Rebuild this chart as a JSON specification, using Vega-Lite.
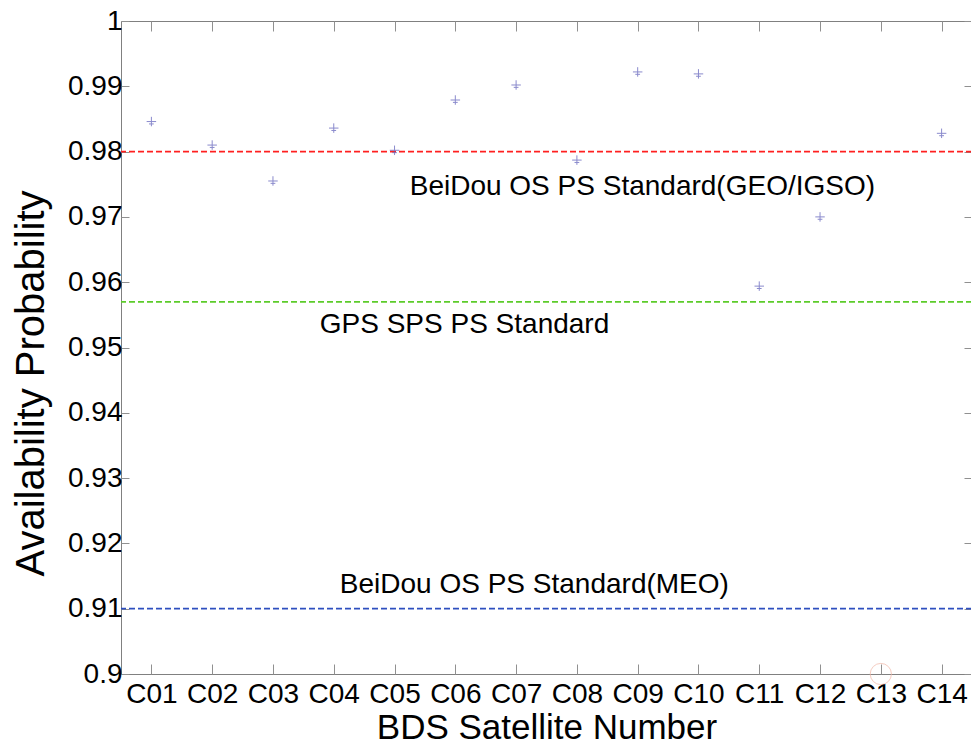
{
  "$schema": "https://vega.github.io/schema/vega-lite/v6.json",
  "width": 851,
  "height": 653,
  "autosize": "none",
  "padding": {"left": 121, "top": 21, "right": 0, "bottom": 76},
  "background": "white",
  "config": {
    "view": {"stroke": "#808080", "strokeWidth": 1},
    "font": "Liberation Sans",
    "axis": {
      "grid": false,
      "domain": false,
      "tickColor": "#909090",
      "tickWidth": 1,
      "labelFont": "Liberation Sans",
      "titleFont": "Liberation Sans",
      "labelColor": "black",
      "titleColor": "black",
      "labelFontSize": 28,
      "titleFontWeight": "normal"
    }
  },
  "datasets": {
    "sats": [
      {"sat": "C01", "n": 1, "availability": 0.9846},
      {"sat": "C02", "n": 2, "availability": 0.981},
      {"sat": "C03", "n": 3, "availability": 0.9755},
      {"sat": "C04", "n": 4, "availability": 0.9836},
      {"sat": "C05", "n": 5, "availability": 0.9802},
      {"sat": "C06", "n": 6, "availability": 0.9879},
      {"sat": "C07", "n": 7, "availability": 0.9902},
      {"sat": "C08", "n": 8, "availability": 0.9787},
      {"sat": "C09", "n": 9, "availability": 0.9922},
      {"sat": "C10", "n": 10, "availability": 0.9919},
      {"sat": "C11", "n": 11, "availability": 0.9594},
      {"sat": "C12", "n": 12, "availability": 0.97},
      {"sat": "C14", "n": 14, "availability": 0.9828}
    ],
    "standards": [
      {"standard": "GEO/IGSO", "value": 0.98},
      {"standard": "GPS", "value": 0.957},
      {"standard": "MEO", "value": 0.91}
    ],
    "labels": [
      {"label": "BeiDou OS PS Standard(GEO/IGSO)", "x": 5.25, "y": 0.9746},
      {"label": "GPS SPS PS Standard", "x": 3.77, "y": 0.9535},
      {"label": "BeiDou OS PS Standard(MEO)", "x": 4.1, "y": 0.9137}
    ],
    "missing": [
      {"sat": "C13", "n": 13, "availability": 0.9}
    ]
  },
  "resolve": {"axis": {"x": "independent", "y": "independent"}},
  "layer": [
    {
      "data": {"name": "standards"},
      "mark": {"type": "rule", "strokeDash": [6, 3], "strokeWidth": 1.8},
      "encoding": {
        "y": {
          "field": "value",
          "type": "quantitative",
          "scale": {"domain": [0.9, 1], "nice": false, "zero": false},
          "axis": {
            "orient": "left",
            "values": [0.9, 0.91, 0.92, 0.93, 0.94, 0.95, 0.96, 0.97, 0.98, 0.99, 1],
            "tickSize": -8,
            "labelPadding": 7,
            "labelExpr": "datum.value == 1 ? '1' : format(datum.value, '.2~f')",
            "title": "Availability Probability",
            "titleFontSize": 40,
            "titlePadding": 16,
            "titleY": 362
          }
        },
        "color": {
          "field": "standard",
          "type": "nominal",
          "scale": {"domain": ["GEO/IGSO", "GPS", "MEO"], "range": ["#ff2020", "#5ccc2a", "#2e4fbf"]},
          "legend": null
        }
      }
    },
    {
      "data": {"name": "sats"},
      "mark": {"type": "point", "shape": "M-1,0H1M0,-1V1M-0.5,0.5H0.5", "filled": false, "size": 90, "stroke": "#5a5ab8", "strokeWidth": 1},
      "encoding": {
        "x": {
          "field": "n",
          "type": "quantitative",
          "scale": {"domain": [0.5, 14.5], "nice": false, "zero": false},
          "axis": {
            "orient": "bottom",
            "values": [1, 2, 3, 4, 5, 6, 7, 8, 9, 10, 11, 12, 13, 14],
            "tickSize": -10,
            "labelPadding": 16,
            "labelExpr": "datum.value < 10 ? 'C0' + datum.value : 'C' + datum.value",
            "title": "BDS Satellite Number",
            "titleFontSize": 35,
            "titlePadding": 2
          }
        },
        "y": {
          "field": "availability",
          "type": "quantitative",
          "scale": {"domain": [0.9, 1], "nice": false, "zero": false},
          "axis": {
            "orient": "right",
            "values": [0.9, 0.91, 0.92, 0.93, 0.94, 0.95, 0.96, 0.97, 0.98, 0.99, 1],
            "tickSize": -8,
            "labels": false,
            "title": null
          }
        }
      }
    },
    {
      "data": {"name": "labels"},
      "mark": {"type": "text", "align": "left", "baseline": "middle", "fontSize": 28, "font": "Liberation Sans", "color": "black"},
      "encoding": {
        "x": {
          "field": "x",
          "type": "quantitative",
          "scale": {"domain": [0.5, 14.5], "nice": false, "zero": false},
          "axis": {
            "orient": "top",
            "values": [1, 2, 3, 4, 5, 6, 7, 8, 9, 10, 11, 12, 13, 14],
            "tickSize": -10,
            "labels": false,
            "title": null
          }
        },
        "y": {"field": "y", "type": "quantitative", "axis": null},
        "text": {"field": "label"}
      }
    },
    {
      "data": {"name": "missing"},
      "mark": {"type": "point", "shape": "circle", "filled": false, "size": 450, "stroke": "#f2b8a8", "strokeWidth": 1},
      "encoding": {
        "x": {"field": "n", "type": "quantitative", "axis": null},
        "y": {"field": "availability", "type": "quantitative", "axis": null}
      }
    }
  ]
}
